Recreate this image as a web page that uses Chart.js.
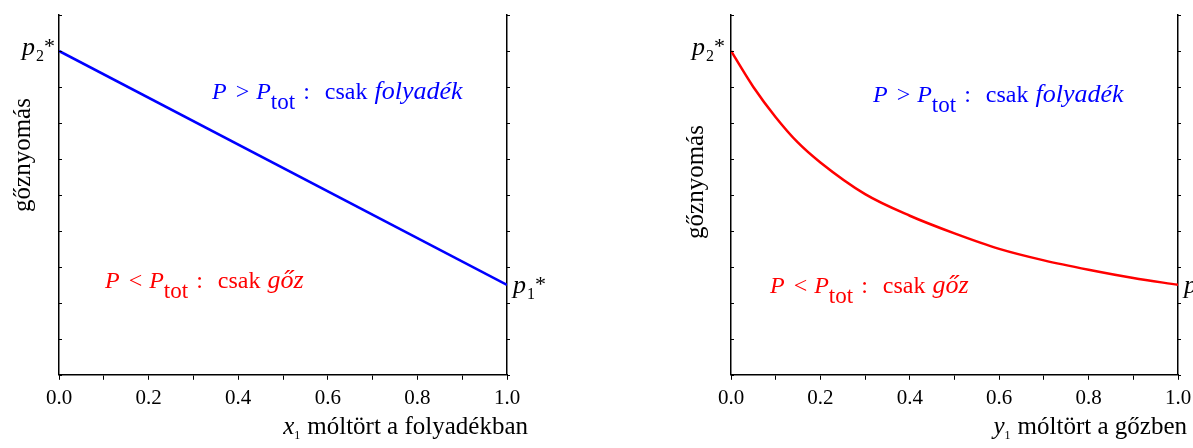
<!DOCTYPE html>
<html>
<head>
<meta charset="utf-8">
<script src="https://cdn.jsdelivr.net/npm/chart.js@4.4.0/dist/chart.umd.min.js"></script>
<style>
  html, body { margin: 0; padding: 0; background: #fff; }
  #wrap { position: relative; width: 1193px; height: 448px; overflow: hidden; }
  .box { position: absolute; top: 0; height: 448px; }
  #left { left: 0; width: 600px; }
  #right { left: 600px; width: 620px; }
</style>
</head>
<body>
<div id="wrap">
  <div class="box" id="left"><canvas id="liquid" width="600" height="448"></canvas></div>
  <div class="box" id="right"><canvas id="vapour" width="620" height="448"></canvas></div>
</div>
<script>
// mole fraction x1 in the liquid -> vapour pressure (bubble line)
const liquidX = [0, 1];
const liquidP = [9, 2.5];

// mole fraction y1 in the vapour -> vapour pressure (dew curve)
const vapourY = [0, 0.05, 0.1, 0.15, 0.2, 0.3, 0.4, 0.5, 0.6, 0.7, 0.8, 0.9, 1.0];
const vapourP = [9.0, 8.0, 7.16, 6.45, 5.9, 5.02, 4.42, 3.93, 3.5, 3.18, 2.92, 2.69, 2.5];

// unlabelled pressure ticks on the side axes
const pressureTicks = [0, 1, 2, 3, 4, 5, 6, 7, 8, 9, 10];

const FONT = '"Liberation Serif", "Times New Roman", serif';

function drawRuns(ctx, x, y, runs, size, color) {
    ctx.fillStyle = color;
    ctx.textAlign = 'left';
    ctx.textBaseline = 'alphabetic';
    runs.forEach(r => {
        const s = r.size || size;
        ctx.font = (r.italic ? 'italic ' : '') + s + 'px ' + FONT;
        ctx.fillText(r.t, x, y + (r.dy || 0));
        x += ctx.measureText(r.t).width + (r.gap || 0);
    });
}

function runsWidth(ctx, runs, size) {
    let w = 0;
    runs.forEach(r => {
        ctx.font = (r.italic ? 'italic ' : '') + (r.size || size) + 'px ' + FONT;
        w += ctx.measureText(r.t).width + (r.gap || 0);
    });
    return w;
}

const liquidRuns = [
    {t: 'P', italic: true, gap: 3}, {t: ' > ', gap: 1}, {t: 'P', italic: true},
    {t: 'tot', size: 23, dy: 10, gap: 2}, {t: ' :  ', gap: 3}, {t: 'csak ', gap: 1}, {t: 'folyadék', italic: true, size: 26}
];
const vapourRuns = [
    {t: 'P', italic: true, gap: 3}, {t: ' < ', gap: 1}, {t: 'P', italic: true},
    {t: 'tot', size: 23, dy: 10, gap: 2}, {t: ' :  ', gap: 3}, {t: 'csak ', gap: 1}, {t: 'gőz', italic: true, size: 26}
];

const notesPlugin = {
    id: 'notes',
    afterDraw(chart, args, opts) {
        const {ctx, chartArea: ca, scales} = chart;
        const y = scales.y;
        ctx.save();

        // small ticks on both pressure axes
        ctx.strokeStyle = '#000';
        ctx.lineWidth = 1;
        pressureTicks.forEach(v => {
            const py = Math.round(y.getPixelForValue(v)) + 0.5;
            ctx.beginPath();
            ctx.moveTo(ca.left, py); ctx.lineTo(ca.left + 3, py);
            ctx.moveTo(ca.right, py); ctx.lineTo(ca.right + 3, py);
            ctx.stroke();
        });

        drawRuns(ctx, ca.left + opts.blue[0], ca.top + opts.blue[1], liquidRuns, 24, '#0000ff');
        drawRuns(ctx, ca.left + opts.red[0], ca.top + opts.red[1], vapourRuns, 24, '#ff0000');

        // p2* and p1* at the ends
        const p2 = [{t: 'p', italic: true, gap: 1}, {t: '2', size: 16, dy: 6}, {t: '*', size: 22, dy: -2}];
        const p1 = [{t: 'p', italic: true, gap: 1}, {t: '1', size: 16, dy: 6}, {t: '*', size: 22, dy: -2}];
        drawRuns(ctx, ca.left + opts.p2[0], ca.top + opts.p2[1], p2, 26, '#000');
        drawRuns(ctx, ca.right + opts.p1[0], ca.top + opts.p1[1], p1, 26, '#000');

        // y title, rotated
        ctx.save();
        ctx.translate(ca.left + opts.yTitle[0], opts.yTitle[1]);
        ctx.rotate(-Math.PI / 2);
        ctx.font = '25px ' + FONT;
        ctx.fillStyle = '#000';
        ctx.textAlign = 'center';
        ctx.textBaseline = 'alphabetic';
        ctx.fillText('gőznyomás', 0, 0);
        ctx.restore();

        // x title, right aligned
        const xt = opts.xTitle;
        const w = runsWidth(ctx, xt.runs, 25);
        drawRuns(ctx, xt.right - w, xt.base, xt.runs, 25, '#000');

        ctx.restore();
    }
};

function makeChart(id, xs, ps, color, padding, notes) {
    return new Chart(document.getElementById(id), {
        type: 'line',
        data: {
            datasets: [{
                data: xs.map((x, i) => ({x: x, y: ps[i]})),
                borderColor: color,
                borderWidth: 2.5,
                pointRadius: 0,
                fill: false,
                cubicInterpolationMode: 'monotone'
            }]
        },
        options: {
            responsive: false,
            animation: false,
            layout: {padding: padding},
            plugins: {legend: {display: false}, tooltip: {enabled: false}, notes: notes},
            scales: {
                x: {
                    type: 'linear', min: 0, max: 1,
                    ticks: {
                        stepSize: 0.1, autoSkip: false, maxRotation: 0, padding: 6,
                        color: '#000', font: {family: FONT, size: 21},
                        callback: v => (Math.round(v * 10) % 2 === 0 ? v.toFixed(1) : '')
                    },
                    grid: {display: true, drawOnChartArea: false, drawTicks: true, tickLength: 5, color: '#000', lineWidth: 1},
                    border: {display: true, color: '#000', width: 1.5}
                },
                y: {
                    type: 'linear', min: 0, max: 10, position: 'left',
                    ticks: {display: false},
                    grid: {display: false, drawTicks: false},
                    border: {display: true, color: '#000', width: 1.5}
                },
                y2: {
                    type: 'linear', min: 0, max: 10, position: 'right',
                    ticks: {display: false},
                    grid: {display: false, drawTicks: false},
                    border: {display: true, color: '#000', width: 1.5}
                }
            }
        },
        plugins: [notesPlugin]
    });
}

makeChart('liquid', liquidX, liquidP, '#0000ff',
    {left: 59, right: 93, top: 15, bottom: 31},
    {
        blue: [153, 84], red: [46, 273], p2: [-37, 40], p1: [6, 278],
        yTitle: [-29, 155],
        xTitle: {right: 528, base: 434, runs: [{t: 'x', italic: true}, {t: '1', size: 12, dy: 5, gap: 7}, {t: 'móltört a folyadékban'}]}
    });

makeChart('vapour', vapourY, vapourP, '#ff0000',
    {left: 131, right: 42, top: 15, bottom: 31},
    {
        blue: [142, 87], red: [39, 278], p2: [-39, 40], p1: [6, 278],
        yTitle: [-28, 182],
        xTitle: {right: 587, base: 434, runs: [{t: 'y', italic: true}, {t: '1', size: 12, dy: 5, gap: 7}, {t: 'móltört a gőzben'}]}
    });
</script>
</body>
</html>
